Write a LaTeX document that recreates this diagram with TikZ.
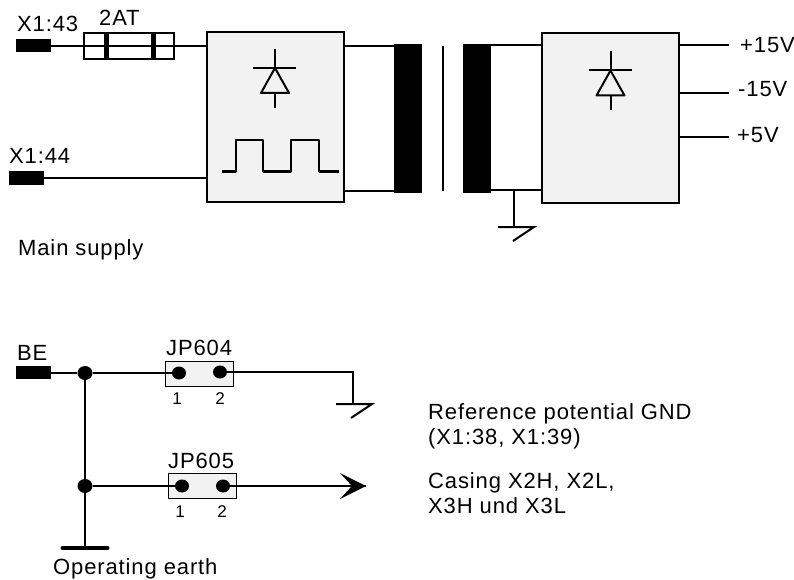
\documentclass[tikz,border=0pt]{standalone}
\usepackage{fontspec}
\usetikzlibrary{shapes.geometric}
\setmainfont[LetterSpace=4]{Liberation Sans}
\definecolor{blockgray}{HTML}{F2F2F2}
\tikzset{
    wire/.style={line width=2pt},
    lbl/.style={anchor=base west,inner sep=0pt,font=\fontsize{22}{24}\selectfont},
    pinlbl/.style={anchor=base,inner sep=0pt,font=\fontsize{17}{18}\selectfont},
    conn/.style={fill=black,minimum width=35pt,minimum height=13pt,inner sep=0pt},
    block/.style={draw,line width=2pt,fill=blockgray,minimum width=137pt,minimum height=169pt,inner sep=0pt},
    core/.style={fill=black,minimum width=28pt,minimum height=148pt,inner sep=0pt},
    jumper/.style={draw,line width=1pt,fill=blockgray,minimum width=68pt,minimum height=25pt,inner sep=0pt},
    pin/.style={fill=black,ellipse,minimum width=14pt,minimum height=13pt,inner sep=0pt},
    joint/.style={fill=black,ellipse,minimum width=15pt,minimum height=14pt,inner sep=0pt},
    diode/.pic={
        \draw[wire] (0,-34) -- (0,-15) (0,10) -- (0,25);
        \draw[line width=2pt] (-22,-15) -- (21,-15);
        \draw[line width=2pt,line join=round] (0,-15) -- (14,10) -- (-14,10) -- cycle;
    },
    earth/.pic={
        \draw[wire] (-18,0) -- (18,0) -- (-3,14);
    },
}
\begin{document}
\begin{tikzpicture}[x=1pt,y=-1pt]
    \useasboundingbox (0,0) rectangle (794,580);
    % main supply
    \node[conn] (connA) at (33.5,46) {};
    \node[conn] (connB) at (26.5,178) {};
    \node[block] (rectA) at (275.5,117) {};
    \node[block] (rectB) at (610.5,118) {};
    \node[core] (coreA) at (408,118.5) {};
    \node[core] (coreB) at (476.5,118.5) {};
    \node[draw,line width=1.4pt,minimum width=90pt,minimum height=26pt,inner sep=0pt] (fuse) at (129,46) {};
    \node[fill=black,minimum width=5pt,minimum height=26pt,inner sep=0pt] (fuseL) at (106,46) {};
    \node[fill=black,minimum width=5pt,minimum height=26pt,inner sep=0pt] (fuseR) at (153.5,46) {};
    \draw[wire] (connA) -- (connA -| rectA.west);
    \draw[wire] (connB) -- (connB -| rectA.west);
    \draw[wire] (rectA.east |- 0,46) -- (coreA.west |- 0,46);
    \draw[wire] (rectA.east |- 0,191) -- (coreA.west |- 0,191);
    \draw[wire] (coreB.east |- 0,45) -- (rectB.west |- 0,45);
    \draw[wire] (coreB.east |- 0,190) -- (rectB.west |- 0,190);
    \draw[line width=2pt] (442.5,46) -- (442.5,191);
    \foreach \y in {45,93,137} {
        \draw[wire] (rectB.east |- 0,\y) -- (729,\y);
    }
    \pic at (275,83) {diode};
    \pic at (610.5,85.5) {diode};
    \draw[line width=2pt,line join=round] (222,171.5) -- (236,171.5) -- (236,140.5) -- (263,140.5) -- (263,171.5) -- (291,171.5) -- (291,140.5) -- (319,140.5) -- (319,171.5) -- (339,171.5);
    \coordinate (gndA) at (514,227);
    \draw[wire] (gndA |- 0,190) -- (gndA);
    \pic at (516,227) {earth};
    \node[lbl] (lblA) at (17,32) {X1:43};
    \node[lbl] (lblB) at (9,164) {X1:44};
    \node[lbl] (lblFuse) at (99,26) {2AT};
    \node[lbl] (lblP15) at (740,53) {+15V};
    \node[lbl] (lblM15) at (738,97) {-15V};
    \node[lbl] (lblP5) at (737,143) {+5V};
    \node[lbl] (lblMain) at (18,255) {Main supply};
    % operating earth
    \node[conn] (connBE) at (33.5,372.5) {};
    \node[jumper] (jpA) at (199.5,373.5) {};
    \node[jumper] (jpB) at (202.5,485.5) {};
    \node[joint] (jointA) at (85,373) {};
    \node[joint] (jointB) at (85,486) {};
    \node[pin] (pinA) at (179,373) {};
    \node[pin] (pinB) at (220,372) {};
    \node[pin] (pinC) at (182,486) {};
    \node[pin] (pinD) at (223,486) {};
    \coordinate (gndB) at (353,404);
    \coordinate (tipC) at (366,486);
    \coordinate (earthC) at (85,548);
    \draw[wire] (connBE.east |- jointA) -- (jointA) -- (pinA);
    \draw[wire] (pinB) -- (gndB |- pinB) -- (gndB);
    \pic at (354,404) {earth};
    \draw[wire] (jointA) -- (earthC);
    \draw[wire] (jointB) -- (pinC);
    \draw[wire] (pinD) -- (tipC);
    \fill (tipC) -- (340,473) -- (352,486) -- (340,499) -- cycle;
    \draw[line width=4pt,line cap=round] (62.5,548) -- (107.5,548);
    \node[lbl] (lblBE) at (17,360) {BE};
    \node[lbl] (lblJA) at (166,355) {JP604};
    \node[lbl] (lblJB) at (168,468) {JP605};
    \node[pinlbl] (numA) at (177,404) {1};
    \node[pinlbl] (numB) at (220,404) {2};
    \node[pinlbl] (numC) at (180,517) {1};
    \node[pinlbl] (numD) at (222,517) {2};
    \node[lbl] (lblRef) at (428,419) {Reference potential GND};
    \node[lbl] (lblRefB) at (428,444) {(X1:38, X1:39)};
    \node[lbl] (lblCas) at (428,488) {Casing X2H, X2L,};
    \node[lbl] (lblCasB) at (428,513) {X3H und X3L};
    \node[lbl] (lblEarth) at (53,574) {Operating earth};
\end{tikzpicture}
\end{document}
